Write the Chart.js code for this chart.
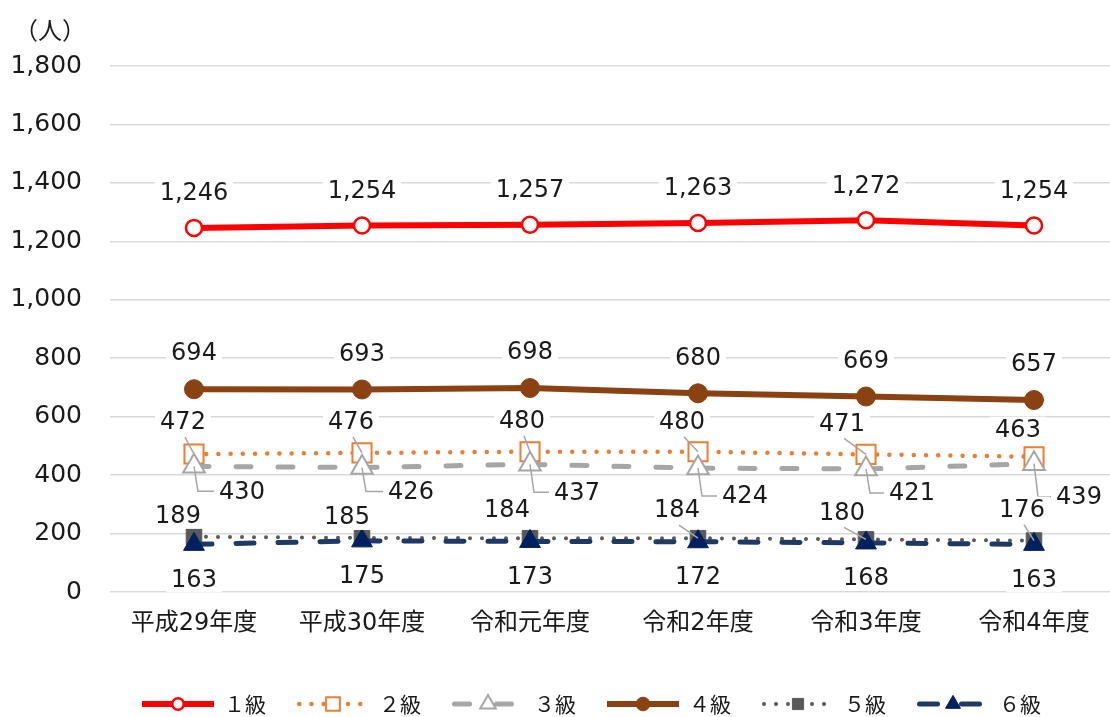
<!DOCTYPE html>
<html><head><meta charset="utf-8">
<script src="https://cdn.jsdelivr.net/npm/chart.js@4.4.1/dist/chart.umd.min.js"></script>
<style>html,body{margin:0;padding:0;background:#fff;overflow:hidden;}#wrap{width:1110px;height:717px;overflow:hidden;}</style>
</head><body><div id="wrap"><canvas id="c" width="1120" height="717" style="width:1120px;height:717px;display:block"></canvas></div>
<script>
// ---- data ----
const categories = ['平成29年度','平成30年度','令和元年度','令和2年度','令和3年度','令和4年度'];
const seriesNames = ['１級','２級','３級','４級','５級','６級'];
const kyu1 = [1246,1254,1257,1263,1272,1254];
const kyu2 = [472,476,480,480,471,463];
const kyu3 = [430,426,437,424,421,439];
const kyu4 = [694,693,698,680,669,657];
const kyu5 = [189,185,184,184,180,176];
const kyu6 = [163,175,173,172,168,163];
const yMin = 0, yMax = 1800, yStep = 200;
const unitLabel = '（人）';

// ---- styles ----
const NUM_FONT = '"DejaVu Sans", "Noto Sans CJK JP", sans-serif';
const CJK_FONT = '"DejaVu Sans", "Noto Sans CJK JP", sans-serif';
const styles = [
  {color:'#FF0000', fill:'#FFFFFF', width:6, dash:[], cap:'butt', point:'circle', r:8, pbw:2.5},
  {color:'#ED7D31', fill:'#FFFFFF', width:4.5, dash:[0,12.2], cap:'round', point:'rect', r:13.5, pbw:2},
  {color:'#A6A6A6', fill:'#FFFFFF', width:5, dash:[15,27], cap:'round', point:'triangle', r:12.5, pbw:2},
  {color:'#8B4212', fill:'#8B4212', width:6, dash:[], cap:'butt', point:'circle', r:9.5, pbw:1},
  {color:'#595959', fill:'#595959', width:4, dash:[0,12], cap:'round', point:'rect', r:11, pbw:1},
  {color:'#203864', fill:'#002060', width:5, dash:[18,24], cap:'round', point:'triangle', r:12, pbw:1, pcolor:'#002060'}
];
// label offsets from point: [dx, dy, leader]
const labelPos = [
  [[0,-35,0],[0,-35,0],[0,-35,0],[0,-35,0],[0,-35,0],[0,-35,0]],
  [[-11,-32,1],[-11,-31,1],[-8,-31,1],[-16,-30,1],[-24,-31,1],[-16,-27,0]],
  [[48,25,1],[49,24,1],[47,28,1],[47,28,1],[46,24,1],[45,33,1]],
  [[0,-36,0],[0,-36,0],[0,-36,0],[0,-36,0],[0,-36,0],[0,-36,0]],
  [[-16,-21,0],[-15,-21,0],[-23,-28,0],[-21,-28,1],[-24,-27,1],[-12,-31,1]],
  [[0,35,0],[0,35,0],[0,35,0],[0,35,0],[0,35,0],[0,35,0]]
];
const fmt = v => v.toLocaleString('en-US');

const seriesData = [kyu1,kyu2,kyu3,kyu4,kyu5,kyu6];
const datasets = seriesData.map((d,i)=>{
  const s = styles[i];
  return {
    label: seriesNames[i], data: d,
    borderColor: s.color, borderWidth: s.width, borderDash: s.dash, borderCapStyle: s.cap,
    borderJoinStyle:'round',
    pointStyle: s.point, pointRadius: s.r, pointBorderWidth: s.pbw,
    pointBackgroundColor: s.fill, pointBorderColor: s.pcolor || s.color,
    pointHoverRadius: s.r, tension: 0, fill:false, order: 5 - i, clip: false
  };
});

function drawMarker(ctx, s, x, y, r){
  ctx.save();
  ctx.setLineDash([]);
  ctx.fillStyle = s.fill; ctx.strokeStyle = s.pcolor || s.color; ctx.lineWidth = s.pbw;
  ctx.beginPath();
  if (s.point==='circle'){ ctx.arc(x,y,r,0,Math.PI*2); }
  else if (s.point==='rect'){ const h=r*Math.SQRT1_2; ctx.rect(x-h,y-h,2*h,2*h); }
  else { ctx.moveTo(x, y-r); ctx.lineTo(x+r*Math.sin(2*Math.PI/3), y+r/2); ctx.lineTo(x-r*Math.sin(2*Math.PI/3), y+r/2); ctx.closePath(); }
  ctx.fill(); ctx.stroke();
  ctx.restore();
}

const extras = {
  id:'extras',
  afterDatasetsDraw(chart){
    const ctx = chart.ctx;
    ctx.save();
    ctx.font = '24px ' + NUM_FONT;
    // leaders
    ctx.strokeStyle = '#A6A6A6'; ctx.lineWidth = 1.5; ctx.setLineDash([]);
    chart.data.datasets.forEach((ds,i)=>{
      const meta = chart.getDatasetMeta(i);
      meta.data.forEach((el,j)=>{
        const [dx,dy,ld] = labelPos[i][j];
        if(!ld) return;
        const lx = el.x+dx, ly = el.y+dy;
        const tw = ctx.measureText(fmt(ds.data[j])).width;
        ctx.beginPath();
        if (i===2){
          ctx.moveTo(el.x, el.y); ctx.lineTo(el.x+4, ly); ctx.lineTo(lx - tw/2 - 5, ly);
        } else {
          ctx.moveTo(lx + 2, ly + 15); ctx.lineTo(el.x, el.y);
        }
        ctx.stroke();
      });
    });
    // labels
    ctx.textAlign='center'; ctx.textBaseline='middle';
    chart.data.datasets.forEach((ds,i)=>{
      const meta = chart.getDatasetMeta(i);
      meta.data.forEach((el,j)=>{
        const [dx,dy] = labelPos[i][j];
        const lx = el.x+dx, ly = el.y+dy;
        const t = fmt(ds.data[j]);
        const tw = ctx.measureText(t).width;
        ctx.fillStyle='#FFFFFF';
        ctx.fillRect(lx - tw/2 - 5, ly - 13, tw + 10, 26);
        ctx.fillStyle='#1A1A1A';
        ctx.fillText(t, lx, ly+1);
      });
    });
    ctx.restore();
  },
  afterDraw(chart){
    const ctx = chart.ctx;
    ctx.save();
    // unit label
    ctx.font = '24px "Noto Sans CJK JP", sans-serif';
    ctx.fillStyle='#1A1A1A'; ctx.textAlign='center'; ctx.textBaseline='middle';
    ctx.fillText(unitLabel, 50, 30);
    // legend
    const ly = 704;
    styles.forEach((s,i)=>{
      const x0 = 142 + i*155, x1 = x0 + 72;
      ctx.save();
      ctx.strokeStyle = s.color; ctx.lineWidth = s.width; ctx.lineCap = s.cap;
      ctx.setLineDash(s.dash);
      ctx.beginPath(); ctx.moveTo(x0 + (s.cap==='round'? s.width/2:0), ly); ctx.lineTo(x1 - (s.cap==='round'? s.width/2:0), ly); ctx.stroke();
      ctx.restore();
      drawMarker(ctx, s, (x0+x1)/2, ly, s.r*0.72);
      ctx.fillStyle='#1A1A1A'; ctx.textAlign='left'; ctx.textBaseline='middle';
      ctx.font = '21px "Noto Sans CJK JP", sans-serif';
      ctx.fillText(seriesNames[i], x1 + 10, ly);
    });
    ctx.restore();
  }
};

const yTickValues = [];
for (let v=yMin; v<=yMax; v+=yStep) yTickValues.push(v);

new Chart(document.getElementById('c'), {
  type:'line',
  data:{labels:categories, datasets},
  options:{
    responsive:false, animation:false, devicePixelRatio:1,
    layout:{autoPadding:false, padding:{top:66,right:2,left:0,bottom:0}},
    plugins:{legend:{display:false}, tooltip:{enabled:false}},
    scales:{
      x:{offset:true, grid:{display:false, drawTicks:false}, border:{display:false},
         ticks:{padding:17, color:'#1A1A1A', font:{size:24, family:CJK_FONT}, maxRotation:0, autoSkip:false},
         afterFit(s){ s.height = 125; s.paddingLeft = 0; s.paddingRight = 0; }},
      y:{min:yMin, max:yMax,
         afterBuildTicks(s){ s.ticks = yTickValues.map(v=>({value:v})); },
         ticks:{padding:28, color:'#1A1A1A', font:{size:25, family:NUM_FONT}, callback:v=>fmt(v)},
         grid:{color:'#D9D9D9', lineWidth:1.5, drawTicks:false}, border:{display:false},
         afterFit(s){ s.width = 110; s.paddingTop = 0; s.paddingBottom = 0; }}
    }
  },
  plugins:[extras]
});
</script></body></html>
